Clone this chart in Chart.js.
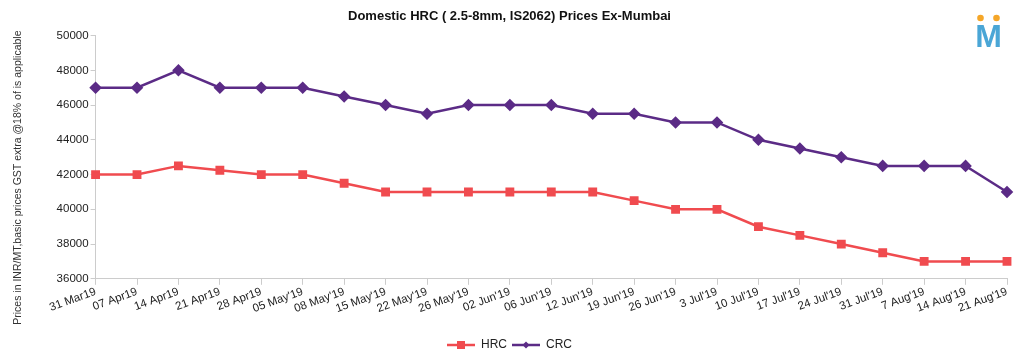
<!DOCTYPE html>
<html>
<head>
<meta charset="utf-8">
<script src="https://cdn.jsdelivr.net/npm/chart.js@4.4.0/dist/chart.umd.min.js"></script>
<style>
html,body{margin:0;padding:0;background:#fff;}
#wrap{width:1024px;height:355px;position:relative;}
</style>
</head>
<body>
<div id="wrap"><canvas id="c" width="1024" height="355"></canvas></div>
<script>
const categories = ["31 Mar19","07 Apr19","14 Apr19","21 Apr19","28 Apr19","05 May'19","08 May'19","15 May'19","22 May'19","26 May'19","02 Jun'19","06 Jun'19","12 Jun'19","19 Jun'19","26 Jun'19","3 Jul'19","10 Jul'19","17 Jul'19","24 Jul'19","31 Jul'19","7 Aug'19","14 Aug'19","21 Aug'19"];
const hrcValues = [42000,42000,42500,42250,42000,42000,41500,41000,41000,41000,41000,41000,41000,40500,40000,40000,39000,38500,38000,37500,37000,37000,37000];
const crcValues = [47000,47000,48000,47000,47000,47000,46500,46000,45500,46000,46000,46000,45500,45500,45000,45000,44000,43500,43000,42500,42500,42500,41000];
const yTicks = [36000,38000,40000,42000,44000,46000,48000,50000];

const HRC_COLOR = '#f04b4f';
const CRC_COLOR = '#5b2b86';
const FONT = "'Liberation Sans', Arial, sans-serif";

function legendIcon(color, style){
  const cv = document.createElement('canvas');
  cv.width = 28; cv.height = 10;
  const g = cv.getContext('2d');
  g.strokeStyle = color; g.lineWidth = 2.5;
  g.beginPath(); g.moveTo(0,5); g.lineTo(28,5); g.stroke();
  g.fillStyle = color;
  if(style==='rect'){ g.fillRect(10,1,8,8); }
  else { g.beginPath(); g.moveTo(14,1.5); g.lineTo(17.5,5); g.lineTo(14,8.5); g.lineTo(10.5,5); g.closePath(); g.fill(); }
  return cv;
}
const icons = {HRC: legendIcon(HRC_COLOR,'rect'), CRC: legendIcon(CRC_COLOR,'diamond')};

const logoPlugin = {
  id:'logo',
  afterDraw(chart){
    const ctx = chart.ctx;
    ctx.save();
    ctx.fillStyle = '#f5a628';
    ctx.beginPath(); ctx.arc(980.5,18,3.3,0,Math.PI*2); ctx.fill();
    ctx.beginPath(); ctx.arc(996.5,18,3.3,0,Math.PI*2); ctx.fill();
    ctx.fillStyle = '#4aa6d6';
    ctx.font = "bold 32px " + FONT;
    ctx.textAlign = 'center'; ctx.textBaseline = 'alphabetic';
    ctx.fillText('M', 988.5, 47);
    ctx.restore();
  }
};

new Chart(document.getElementById('c'), {
  type:'line',
  data:{
    labels: categories,
    datasets:[
      {label:'HRC', data:hrcValues, borderColor:HRC_COLOR, backgroundColor:HRC_COLOR, borderWidth:2.5, pointStyle:'rect', pointRadius:4.5, pointHoverRadius:4.5, tension:0, clip:false},
      {label:'CRC', data:crcValues, borderColor:CRC_COLOR, backgroundColor:CRC_COLOR, borderWidth:2.5, pointStyle:'rectRot', pointRadius:4.5, pointHoverRadius:4.5, tension:0, clip:false}
    ]
  },
  options:{
    responsive:false,
    animation:false,
    devicePixelRatio:1,
    layout:{padding:{left:12,right:17,top:7,bottom:-6}},
    plugins:{
      title:{display:true, text:'Domestic HRC ( 2.5-8mm, IS2062) Prices Ex-Mumbai', color:'#111', font:{family:FONT, size:13, weight:'bold'}, padding:{top:2,bottom:11}},
      legend:{position:'bottom',
        title:{display:true, text:' ', font:{size:1}, padding:{top:0,bottom:17}},
        labels:{usePointStyle:true, pointStyleWidth:28, color:'#222', font:{family:FONT,size:12}, boxHeight:10, padding:5,
        generateLabels(chart){
          return chart.data.datasets.map((d,i)=>({text:d.label, pointStyle:icons[d.label], fillStyle:d.borderColor, strokeStyle:d.borderColor, lineWidth:0, datasetIndex:i, hidden:false, fontColor:'#222'}));
        }}},
      tooltip:{enabled:false}
    },
    scales:{
      x:{
        offset:false,
        grid:{display:true, drawOnChartArea:false, color:'#cccccc', tickLength:6},
        border:{color:'#cccccc', width:1},
        ticks:{color:'#222', font:{family:FONT,size:11.5}, minRotation:20, maxRotation:20, autoSkip:false, padding:0}
      },
      y:{
        min:36000, max:50000,
        afterBuildTicks(axis){ axis.ticks = yTicks.map(v=>({value:v})); },
        grid:{display:true, drawOnChartArea:false, color:'#cccccc', tickLength:5},
        border:{color:'#cccccc', width:1},
        ticks:{color:'#222', font:{family:FONT,size:11.5}, padding:2, callback:(v)=>String(v)},
        title:{display:true, text:'Prices in INR/MT,basic prices GST extra @18% of is applicable              ', color:'#333', font:{family:FONT,size:10.5}, padding:{top:0,bottom:30}}
      }
    }
  },
  plugins:[logoPlugin]
});
</script>
</body>
</html>
